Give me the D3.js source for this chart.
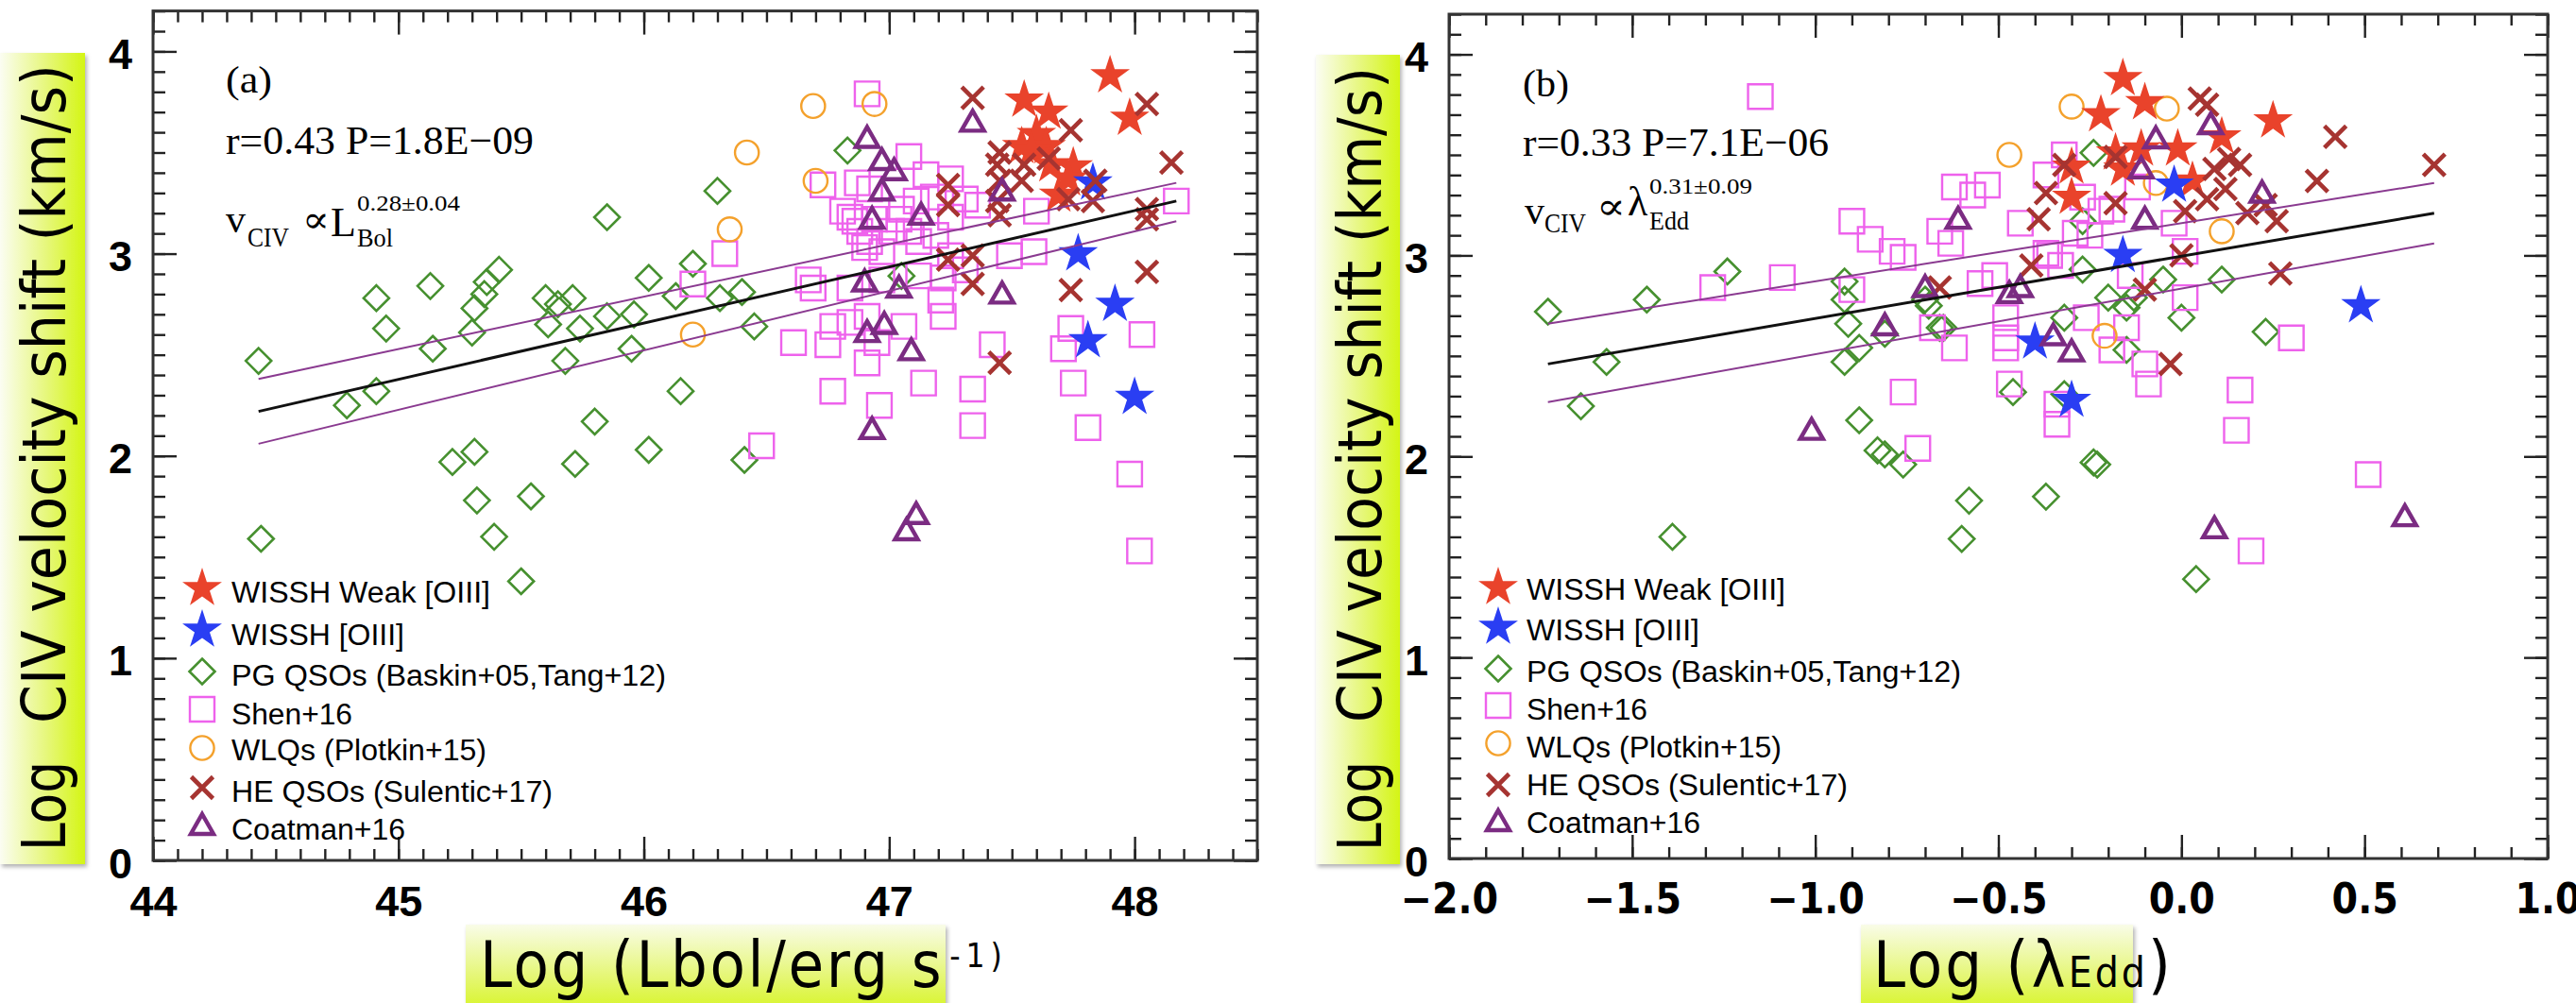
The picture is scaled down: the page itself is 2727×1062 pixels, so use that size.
<!DOCTYPE html>
<html>
<head>
<meta charset="utf-8">
<script src="https://cdn.jsdelivr.net/npm/d3@7"></script>
<style>
  html, body { margin: 0; padding: 0; background: #fff; }
  svg { display: block; }
</style>
</head>
<body>
<svg id="fig" width="2727" height="1062"></svg>
<script>
// ---------------- Panel (a): log L_bol vs log CIV shift ----------------
const wisshWeakA = [[47.90,3.88],[47.55,3.76],[47.65,3.70],[47.98,3.67],[47.60,3.59],[47.54,3.53],
  [47.64,3.53],[47.58,3.51],[47.66,3.44],[47.75,3.43],[47.69,3.29],[47.73,3.37]];
const wisshA = [[47.77,3.00],[47.92,2.75],[47.81,2.57],[48.00,2.29],[47.83,3.35]];
const pgA = [[44.43,2.47],[44.44,1.59],[44.79,2.25],[44.91,2.78],[44.95,2.63],[44.91,2.32],
  [45.13,2.84],[45.14,2.53],[45.22,1.97],[45.31,2.02],[45.32,1.78],[45.31,2.73],[45.30,2.61],
  [45.36,2.86],[45.35,2.80],[45.41,2.92],[45.39,1.60],[45.50,1.38],[45.54,1.80],
  [45.60,2.78],[45.61,2.65],[45.65,2.75],[45.71,2.78],[45.74,2.63],[45.68,2.47],[45.72,1.96],[45.80,2.17],
  [45.85,3.18],[45.85,2.69],[45.95,2.53],[45.96,2.70],[46.02,2.88],[46.02,2.03],[46.15,2.32],[46.13,2.79],
  [46.20,2.95],[46.30,3.31],[46.31,2.78],[46.40,2.81],[46.41,1.98],[46.45,2.64],[46.83,3.51],[47.05,2.89]];
const shenA = [[46.91,3.79],[47.08,3.48],[47.15,3.39],[47.25,3.37],[46.87,3.35],[46.73,3.34],[47.36,3.24],
  [47.60,3.21],[48.17,3.26],[46.84,3.18],[46.88,3.11],[46.92,3.06],[47.04,3.17],[47.08,3.11],[47.01,3.11],
  [47.25,3.18],[47.19,3.09],[47.12,3.06],[47.25,2.99],[47.49,2.99],[47.59,3.01],[46.67,2.87],[46.69,2.83],
  [46.84,2.83],[46.97,2.87],[47.12,2.89],[47.22,2.88],[47.31,2.92],[47.21,2.77],[47.22,2.69],[46.77,2.64],
  [46.84,2.66],[46.91,2.69],[47.06,2.64],[46.61,2.56],[46.75,2.55],[46.95,2.56],[46.91,2.46],[47.42,2.55],
  [47.74,2.63],[47.71,2.53],[48.03,2.60],[46.77,2.32],[46.96,2.25],[47.14,2.36],[47.34,2.33],[47.75,2.36],
  [47.34,2.15],[47.81,2.14],[47.98,1.91],[46.48,2.05],[48.02,1.53],[46.33,3.00],[46.20,2.85],[46.81,3.21],
  [46.86,3.16],[46.94,3.17],[46.90,3.03],[46.97,3.01],[47.05,3.22],[47.11,3.26],[46.92,3.32],[47.18,3.28],
  [47.31,3.27]];
const wlqA = [[46.69,3.73],[46.94,3.74],[46.42,3.50],[46.70,3.36],[46.35,3.12],[46.20,2.60]];
const heA = [[47.34,3.77],[48.05,3.74],[48.15,3.45],[47.74,3.61],[47.45,3.50],[47.44,3.44],[47.45,3.36],
  [47.55,3.44],[47.54,3.36],[47.65,3.47],[47.73,3.27],[47.44,3.26],[47.45,3.19],[47.84,3.36],[47.83,3.26],
  [47.24,3.34],[47.24,3.24],[48.05,3.22],[48.05,3.17],[47.24,2.97],[47.34,2.99],[47.34,2.85],[48.05,2.91],
  [47.74,2.82],[47.45,2.46]];
const coatA = [[47.34,3.65],[46.91,3.57],[46.97,3.46],[47.02,3.41],[46.97,3.31],[46.93,3.17],[47.13,3.19],
  [47.46,3.31],[46.90,2.86],[47.04,2.83],[47.46,2.80],[46.98,2.65],[46.91,2.61],[47.09,2.52],[46.93,2.13],
  [47.11,1.71],[47.07,1.63]];
const fitA = [[44.43,2.22],[48.17,3.26]];
const fitAUpper = [[44.43,2.38],[48.17,3.35]];
const fitALower = [[44.43,2.06],[48.17,3.16]];

// ---------------- Panel (b): log lambda_Edd vs log CIV shift ----------------
const wisshWeakB = [[-0.16,3.88],[-0.22,3.70],[-0.10,3.76],[0.25,3.67],[0.11,3.59],[-0.01,3.53],
  [-0.11,3.53],[-0.18,3.51],[-0.30,3.44],[-0.16,3.43],[-0.30,3.29],[0.03,3.37]];
const wisshB = [[-0.16,3.00],[0.49,2.75],[-0.40,2.57],[-0.30,2.28],[-0.02,3.35]];
const pgB = [[-1.73,2.72],[-1.64,2.25],[-1.57,2.47],[-1.46,2.78],[-1.39,1.60],[-1.24,2.92],
  [-0.92,2.87],[-0.92,2.78],[-0.91,2.66],[-0.92,2.47],[-0.88,2.54],[-0.81,2.61],[-0.88,2.18],
  [-0.83,2.03],[-0.81,2.01],[-0.76,1.96],[-0.70,2.78],[-0.65,2.64],[-0.58,1.78],[-0.60,1.59],
  [-0.46,2.32],[-0.37,1.80],[-0.32,2.69],[-0.24,3.51],[-0.27,2.93],[-0.24,1.97],[-0.23,1.96],
  [-0.20,2.79],[-0.15,2.74],[-0.15,2.53],[-0.05,2.88],[0.00,2.69],[0.11,2.88],[0.23,2.62],
  [0.04,1.39],[-0.27,3.17],[-0.32,2.31],[-0.13,2.79],[-0.69,2.75],[-0.66,2.64]];
const shenB = [[-1.15,3.79],[-1.28,2.84],[-1.09,2.89],[-0.90,3.17],[-0.85,3.08],[-0.79,3.02],[-0.76,2.99],
  [-0.90,2.83],[-0.62,3.34],[-0.57,3.30],[-0.53,3.35],[-0.66,3.12],[-0.63,3.06],[-0.76,2.32],[-0.72,2.04],
  [-0.68,2.64],[-0.62,2.54],[-0.55,2.86],[-0.51,2.90],[-0.48,2.69],[-0.48,2.59],[-0.48,2.54],[-0.47,2.36],
  [-0.44,3.16],[-0.37,3.40],[-0.36,3.00],[-0.34,2.26],[-0.34,2.16],[-0.32,3.50],[-0.27,3.29],[-0.22,3.22],
  [-0.19,3.23],[-0.12,3.34],[-0.02,3.16],[-0.29,3.11],[-0.25,3.10],[-0.37,3.01],[-0.33,2.95],[0.01,3.02],
  [-0.14,2.90],[0.01,2.79],[-0.26,2.69],[-0.15,2.64],[-0.19,2.53],[-0.10,2.46],[-0.09,2.36],[0.30,2.59],
  [0.16,2.33],[0.15,2.13],[0.51,1.91],[0.19,1.53]];
const wlqB = [[-0.30,3.74],[-0.04,3.73],[0.11,3.12],[-0.07,3.36],[-0.21,2.60],[-0.47,3.50]];
const heB = [[0.05,3.78],[0.07,3.75],[0.42,3.59],[0.69,3.45],[0.37,3.37],[-0.18,3.49],[-0.32,3.45],
  [-0.37,3.31],[-0.39,3.18],[-0.18,3.26],[0.01,3.22],[0.09,3.43],[0.13,3.48],[0.16,3.45],[0.12,3.33],
  [0.07,3.28],[0.18,3.21],[0.23,3.25],[0.26,3.17],[0.00,3.00],[0.27,2.91],[-0.10,2.83],[-0.03,2.46],
  [-0.41,2.95],[-0.66,2.84]];
const coatB = [[0.08,3.65],[-0.07,3.58],[-0.11,3.43],[0.22,3.31],[-0.10,3.18],[-0.61,3.18],[-0.70,2.84],
  [-0.47,2.81],[-0.44,2.84],[-0.81,2.65],[-0.35,2.60],[-0.30,2.52],[-1.01,2.13],[0.09,1.64],[0.61,1.70]];
const fitB = [[-1.73,2.46],[0.69,3.21]];
const fitBUpper = [[-1.73,2.66],[0.69,3.36]];
const fitBLower = [[-1.73,2.27],[0.69,3.06]];

// ---------------- Axis ticks and legend text ----------------
const xTicksA = [44, 45, 46, 47, 48];
const xTicksB = [-2.0, -1.5, -1.0, -0.5, 0.0, 0.5, 1.0];
const yTicks = [0, 1, 2, 3, 4];
const legendLabels = ["WISSH Weak [OIII]", "WISSH [OIII]", "PG QSOs (Baskin+05,Tang+12)",
  "Shen+16", "WLQs (Plotkin+15)", "HE QSOs (Sulentic+17)", "Coatman+16"];
const legendKinds = ["starRed", "starBlue", "diamond", "square", "circle", "cross", "triangle"];
const legendWidths = [274, 183, 460, 128, 270, 340, 184];

// ---------------- Marker styles ----------------
const style = {
  starRed:  { fill: "#e9432b", stroke: "none", sw: 0 },
  starBlue: { fill: "#2a3ef3", stroke: "none", sw: 0 },
  diamond:  { fill: "none", stroke: "#46902f", sw: 2.6 },
  square:   { fill: "none", stroke: "#ee62ec", sw: 2.4 },
  circle:   { fill: "none", stroke: "#f4a12c", sw: 2.4 },
  cross:    { fill: "none", stroke: "#a63431", sw: 4.6 },
  triangle: { fill: "none", stroke: "#7b2c82", sw: 4.4 }
};

function markerPath(kind) {
  switch (kind) {
    case "starRed":
    case "starBlue": return d3.symbol().type(d3.symbolStar).size(545)();
    case "diamond": { const h = 13.5; return `M0,${-h}L${h},0L0,${h}L${-h},0Z`; }
    case "square": { const h = 13; return `M${-h},${-h}H${h}V${h}H${-h}Z`; }
    case "circle": { const r = 12.6; return `M${r},0A${r},${r} 0 1,1 ${-r},0A${r},${r} 0 1,1 ${r},0Z`; }
    case "cross": { const a = 11.5; return `M${-a},${-a}L${a},${a}M${-a},${a}L${a},${-a}`; }
    case "triangle": return "M0,-12L12,9L-12,9Z";
  }
}

const svg = d3.select("#fig");
const defs = svg.append("defs");

// label-box gradients: pale at the top of the lettering, bright yellow-green at its foot
const gy = defs.append("linearGradient").attr("id", "gradY")
  .attr("x1", "0").attr("y1", "0").attr("x2", "1").attr("y2", "0");
gy.append("stop").attr("offset", "0").attr("stop-color", "#fbfdf2");
gy.append("stop").attr("offset", "0.55").attr("stop-color", "#e6f77a");
gy.append("stop").attr("offset", "1").attr("stop-color", "#d4f514");
const gx = defs.append("linearGradient").attr("id", "gradX")
  .attr("x1", "0").attr("y1", "0").attr("x2", "0").attr("y2", "1");
gx.append("stop").attr("offset", "0").attr("stop-color", "#f9fce8");
gx.append("stop").attr("offset", "0.6").attr("stop-color", "#e3f66a");
gx.append("stop").attr("offset", "1").attr("stop-color", "#d4f514");
const sh = defs.append("filter").attr("id", "shadow")
  .attr("x", "-10%").attr("y", "-10%").attr("width", "130%").attr("height", "130%");
sh.append("feDropShadow").attr("dx", 2).attr("dy", 3).attr("stdDeviation", 2)
  .attr("flood-color", "#000").attr("flood-opacity", 0.3);

const TICK_FONT = "'Liberation Sans', Arial, Helvetica, sans-serif";
const NARROW_FONT = "'Liberation Sans Narrow', 'DejaVu Sans Condensed', 'Liberation Sans', sans-serif";
const LABEL_FONT = NARROW_FONT;
const SERIF = "'Liberation Serif', 'DejaVu Serif', 'Times New Roman', serif";

function drawPanel(p) {
  const g = svg.append("g");
  const x = p.x, y = p.y;
  const [x0, x1] = x.range(), [y0, y1] = y.range();

  // axis-title boxes
  g.append("rect").attr("x", p.yBox[0]).attr("y", p.yBox[1]).attr("width", p.yBox[2]).attr("height", p.yBox[3])
    .attr("fill", "url(#gradY)").attr("filter", "url(#shadow)");
  g.append("rect").attr("x", p.xBox[0]).attr("y", p.xBox[1]).attr("width", p.xBox[2]).attr("height", p.xBox[3])
    .attr("fill", "url(#gradX)").attr("filter", "url(#shadow)");

  // y-axis title (rotated)
  const yt = g.append("g").attr("transform", `translate(${p.yTitle.x},${p.yTitle.y}) rotate(-90)`)
    .attr("font-family", LABEL_FONT).attr("font-size", 64).attr("fill", "#000");
  yt.append("text").attr("x", 0).attr("y", 0).attr("textLength", 95).attr("lengthAdjust", "spacingAndGlyphs").text("Log");
  yt.append("text").attr("x", p.yTitle.gap).attr("y", 0).attr("textLength", p.yTitle.len)
    .attr("lengthAdjust", "spacingAndGlyphs").text("CIV velocity shift (km/s)");

  // x-axis title: one text element with smaller raised / reduced pieces
  const xt = g.append("text").attr("x", p.xTitle.x).attr("y", p.xTitle.y)
    .attr("font-family", LABEL_FONT).attr("font-size", 68).attr("fill", "#000")
    .attr("letter-spacing", p.xTitle.spacing);
  p.xTitle.parts.forEach(pt => {
    const ts = xt.append("tspan").text(pt.t);
    if (pt.size) ts.attr("font-size", pt.size);
    if (pt.dy) ts.attr("dy", pt.dy);
    if (pt.dx) ts.attr("dx", pt.dx);
    if (pt.spacing) ts.attr("letter-spacing", pt.spacing);
  });

  // ticks (all four sides point inward)
  const tickStyle = sel => {
    sel.select(".domain").remove();
    sel.selectAll(".tick line").attr("stroke", "#222").attr("stroke-width", 2.4);
  };
  const mk = (axisFn, scale, vals, size, labels) => {
    const a = axisFn(scale).tickValues(vals).tickSize(-size);
    if (!labels) a.tickFormat("");
    return a;
  };
  // bottom
  g.append("g").attr("transform", `translate(0,${y0})`)
    .call(mk(d3.axisBottom, x, p.xMinor, 12, false)).call(tickStyle);
  const bx = g.append("g").attr("transform", `translate(0,${y0})`)
    .call(mk(d3.axisBottom, x, p.xMajor, 25, true).tickFormat(p.xFmt).tickPadding(27)).call(tickStyle);
  bx.selectAll("text").attr("font-family", p.xTickFont).attr("font-weight", "bold")
    .attr("font-size", p.xTickSize).attr("fill", "#000");
  // top
  g.append("g").attr("transform", `translate(0,${y1})`)
    .call(mk(d3.axisTop, x, p.xMinor, 12, false)).call(tickStyle);
  g.append("g").attr("transform", `translate(0,${y1})`)
    .call(mk(d3.axisTop, x, p.xMajor, 25, false)).call(tickStyle);
  // left
  g.append("g").attr("transform", `translate(${x0},0)`)
    .call(mk(d3.axisLeft, y, p.yMinor, 13, false)).call(tickStyle);
  const ly = g.append("g").attr("transform", `translate(${x0},0)`)
    .call(mk(d3.axisLeft, y, yTicks, 25, true).tickFormat(d3.format("d")).tickPadding(22)).call(tickStyle);
  ly.selectAll("text").attr("font-family", TICK_FONT).attr("font-weight", "bold")
    .attr("font-size", 45).attr("fill", "#000").attr("dy", "0.4em");
  // right
  g.append("g").attr("transform", `translate(${x1},0)`)
    .call(mk(d3.axisRight, y, p.yMinor, 13, false)).call(tickStyle);
  g.append("g").attr("transform", `translate(${x1},0)`)
    .call(mk(d3.axisRight, y, yTicks, 25, false)).call(tickStyle);

  // frame
  g.append("rect").attr("x", x0).attr("y", y1).attr("width", x1 - x0).attr("height", y0 - y1)
    .attr("fill", "none").attr("stroke", "#333").attr("stroke-width", 3);

  // data markers
  const layer = (data, kind) => {
    const st = style[kind];
    g.append("g").selectAll("path").data(data).join("path")
      .attr("d", markerPath(kind))
      .attr("transform", d => `translate(${x(d[0])},${y(d[1])})`)
      .attr("fill", st.fill).attr("stroke", st.stroke).attr("stroke-width", st.sw)
      .attr("stroke-linejoin", "miter");
  };
  layer(p.pg, "diamond");
  layer(p.shen, "square");
  layer(p.wlq, "circle");
  layer(p.weak, "starRed");
  layer(p.wissh, "starBlue");
  layer(p.he, "cross");
  layer(p.coat, "triangle");

  // regression line and its confidence envelope
  const line = d3.line().x(d => x(d[0])).y(d => y(d[1]));
  g.append("path").datum(p.fitUp).attr("d", line).attr("fill", "none").attr("stroke", "#8a3a90").attr("stroke-width", 2);
  g.append("path").datum(p.fitLo).attr("d", line).attr("fill", "none").attr("stroke", "#8a3a90").attr("stroke-width", 2);
  g.append("path").datum(p.fit).attr("d", line).attr("fill", "none").attr("stroke", "#111").attr("stroke-width", 3);

  // annotations
  p.notes(g);

  // legend
  const lg = g.append("g");
  legendKinds.forEach((k, i) => {
    const st = style[k];
    lg.append("path").attr("d", markerPath(k))
      .attr("transform", `translate(${p.legend.sx},${p.legend.sy[i]})`)
      .attr("fill", st.fill).attr("stroke", st.stroke).attr("stroke-width", st.sw);
    lg.append("text").attr("x", p.legend.tx).attr("y", p.legend.ty[i])
      .attr("font-family", TICK_FONT).attr("font-size", 31).attr("fill", "#000")
      .attr("textLength", legendWidths[i]).attr("lengthAdjust", "spacingAndGlyphs")
      .text(legendLabels[i]);
  });
}

function txt(g, s, x, y, size, opts = {}) {
  const t = g.append("text").attr("x", x).attr("y", y).attr("font-size", size)
    .attr("font-family", opts.font || SERIF).attr("fill", "#000").text(s);
  if (opts.len) t.attr("textLength", opts.len).attr("lengthAdjust", "spacingAndGlyphs");
  return t;
}

// ---- panel (a)
drawPanel({
  x: d3.scaleLinear().domain([44, 48.5]).range([162, 1331]),
  y: d3.scaleLinear().domain([0, 4.2]).range([911, 11.6]),
  xMajor: xTicksA, xMinor: d3.range(440, 486).map(v => v / 10), xFmt: d3.format("d"),
  xTickFont: TICK_FONT, xTickSize: 45,
  yMinor: d3.range(0, 43).map(v => v / 10),
  weak: wisshWeakA, wissh: wisshA, pg: pgA, shen: shenA, wlq: wlqA, he: heA, coat: coatA,
  fit: fitA, fitUp: fitAUpper, fitLo: fitALower,
  yBox: [0, 56, 90, 859], xBox: [493, 979, 508, 100],
  yTitle: { x: 69, y: 901, gap: 135, len: 698 },
  xTitle: { x: 508, y: 1045, spacing: 2.6,
    parts: [{ t: "Log (Lbol/erg s" }, { t: "-1)", size: 35, dy: -21, dx: 6, spacing: 6 }] },
  notes: g => {
    txt(g, "(a)", 239, 98, 40, { len: 49 });
    txt(g, "r=0.43 P=1.8E\u221209", 239, 163, 43, { len: 326 });
    txt(g, "v", 239, 246, 42);
    txt(g, "CIV", 262, 261, 30, { len: 44 });
    txt(g, "\u221d", 320, 246, 40, { len: 29 });
    txt(g, "L", 350, 250, 44);
    txt(g, "Bol", 378, 261, 28, { len: 38 });
    txt(g, "0.28\u00b10.04", 378, 223, 24, { len: 109 });
  },
  legend: { sx: 214, tx: 245, sy: [623, 667, 711, 751, 792, 834, 874], ty: [638, 683, 726, 767, 805, 849, 889] }
});

// ---- panel (b)
drawPanel({
  x: d3.scaleLinear().domain([-2, 1]).range([1534, 2697]),
  y: d3.scaleLinear().domain([0, 4.2]).range([909, 15]),
  xMajor: xTicksB, xMinor: d3.range(-20, 11).map(v => v / 10), xFmt: d3.format(".1f"),
  xTickFont: NARROW_FONT, xTickSize: 44,
  yMinor: d3.range(0, 43).map(v => v / 10),
  weak: wisshWeakB, wissh: wisshB, pg: pgB, shen: shenB, wlq: wlqB, he: heB, coat: coatB,
  fit: fitB, fitUp: fitBUpper, fitLo: fitBLower,
  yBox: [1393, 58, 89, 857], xBox: [1970, 979, 288, 100],
  yTitle: { x: 1462, y: 901, gap: 136, len: 694 },
  xTitle: { x: 1983, y: 1045, spacing: 3,
    parts: [{ t: "Log (\u03bb" }, { t: "Edd", size: 44 }, { t: ")", size: 68 }] },
  notes: g => {
    txt(g, "(b)", 1612, 102, 40, { len: 49 });
    txt(g, "r=0.33 P=7.1E\u221206", 1612, 165, 43, { len: 324 });
    txt(g, "v", 1614, 237, 42);
    txt(g, "CIV", 1635, 246, 30, { len: 44 });
    txt(g, "\u221d", 1690, 232, 40, { len: 31 });
    txt(g, "\u03bb", 1723, 228, 44);
    txt(g, "Edd", 1746, 243, 28, { len: 42 });
    txt(g, "0.31\u00b10.09", 1746, 205, 24, { len: 109 });
  },
  legend: { sx: 1586, tx: 1616, sy: [622, 664, 708, 747, 787, 831, 870], ty: [635, 678, 722, 762, 802, 842, 882] }
});
</script>
</body>
</html>
